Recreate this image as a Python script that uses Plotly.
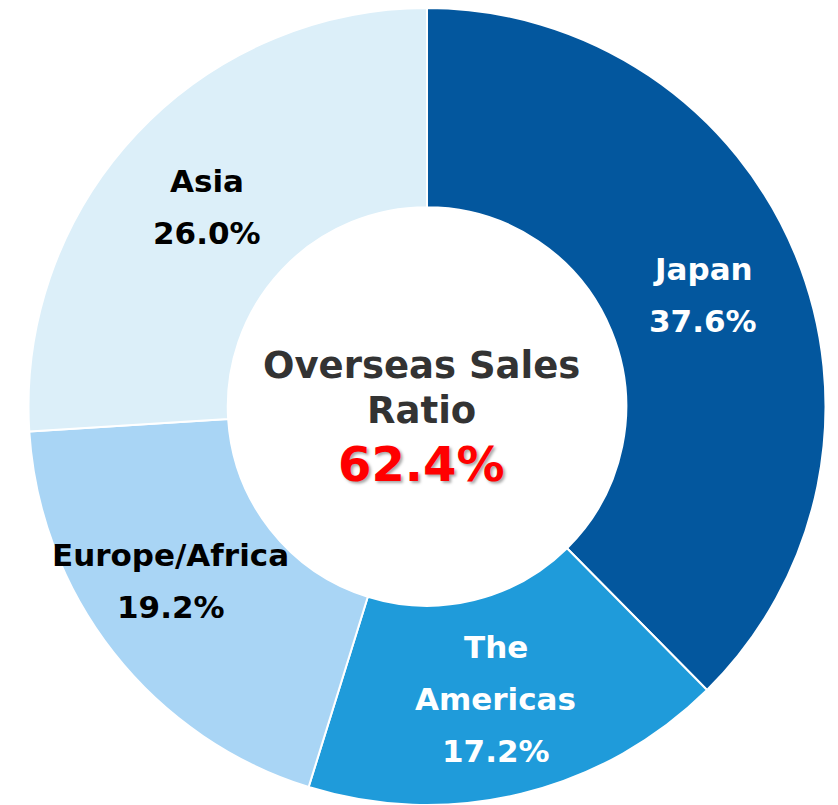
"""Donut chart: sales ratio by region."""

import math

import plotly.graph_objects as go

regions = ["Japan", "The Americas", "Europe/Africa", "Asia"]
label_lines = [["Japan"], ["The", "Americas"], ["Europe/Africa"], ["Asia"]]
shares = [37.6, 17.2, 19.2, 26.0]
colors = ["#03579E", "#1F9BDA", "#A9D5F5", "#DCEFF9"]
text_colors = ["white", "white", "black", "black"]
overseas_ratio = 62.4

FONT = "DejaVu Sans"
LABEL_SIZE = 31
LINE_GAP = 52
W, H = 838, 805
MARGIN = dict(l=19, r=19, t=0, b=8)
# small per-label nudges (pixels, right / down) to match the original placement
nudges = [(0, 2), (-2, 2), (-21, -10), (-2, 5)]

fig = go.Figure()
fig.add_trace(
    go.Pie(
        labels=regions,
        values=shares,
        sort=False,
        direction="clockwise",
        rotation=0,
        hole=0.5,
        marker=dict(colors=colors, line=dict(color="white", width=2)),
        textinfo="none",
        hoverinfo="label+percent",
        showlegend=False,
    )
)

plot_w = W - MARGIN["l"] - MARGIN["r"]
plot_h = H - MARGIN["t"] - MARGIN["b"]
radius = min(plot_w, plot_h) / 2
rx = 0.75 * radius / plot_w
ry = 0.75 * radius / plot_h

annotations = []
total = sum(shares)
cum = 0.0
for lines, share, tcolor, (dx, dy) in zip(label_lines, shares, text_colors, nudges):
    mid = (cum + share / 2) / total * 2 * math.pi
    cum += share
    x = 0.5 + rx * math.sin(mid)
    y = 0.5 + ry * math.cos(mid)
    rows = lines + [f"{share:.1f}%"]
    n = len(rows)
    for i, row in enumerate(rows):
        offset = ((n - 1) / 2 - i) * LINE_GAP
        annotations.append(
            dict(
                x=x, y=y, xref="paper", yref="paper",
                xanchor="center", yanchor="middle",
                text=f"<b>{row}</b>", showarrow=False,
                xshift=dx, yshift=offset - dy,
                font=dict(family=FONT, size=LABEL_SIZE, color=tcolor),
            )
        )

# center text
center_rows = [
    ("<b>Overseas Sales</b>", 41, 37, "#333333", None),
    ("<b>Ratio</b>", -4, 37, "#333333", None),
    (f"<b>{overseas_ratio:.1f}%</b>", -57, 48, "#FF0000",
     "2px 2px 3px rgba(0,0,0,0.35)"),
]
for text, shift, size, color, shadow in center_rows:
    font = dict(family=FONT, size=size, color=color)
    if shadow:
        font["shadow"] = shadow
    annotations.append(
        dict(x=0.5, y=0.5, xref="paper", yref="paper", showarrow=False,
             xanchor="center", yanchor="middle",
             text=text, xshift=-6, yshift=shift, font=font)
    )

fig.update_layout(
    width=W,
    height=H,
    margin=MARGIN,
    paper_bgcolor="white",
    plot_bgcolor="white",
    annotations=annotations,
)

fig.write_html("out.html")
